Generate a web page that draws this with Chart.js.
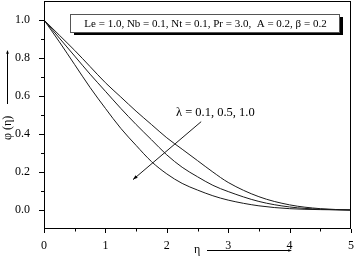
<!DOCTYPE html>
<html>
<head>
<meta charset="utf-8">
<script src="https://cdn.jsdelivr.net/npm/chart.js@4"></script>
<style>
  html, body { margin: 0; padding: 0; background: #fff; }
  #wrap { width: 354px; height: 265px; }
</style>
</head>
<body>
<div id="wrap"><canvas id="phiChart" width="354" height="265"></canvas></div>
<script>
// Data
const etaValues = [0, 0.25, 0.5, 0.75, 1.0, 1.25, 1.5, 1.75, 2.0, 2.25, 2.5, 2.75, 3.0, 3.5, 4.0, 4.5, 5.0];
const phiLambda01 = [1, 0.92, 0.84, 0.755, 0.67, 0.595, 0.52, 0.45, 0.38, 0.32, 0.26, 0.20, 0.145, 0.07, 0.027, 0.007, 0];
const phiLambda05 = [1, 0.905, 0.81, 0.715, 0.625, 0.535, 0.45, 0.37, 0.29, 0.225, 0.175, 0.13, 0.097, 0.045, 0.016, 0.004, 0];
const phiLambda10 = [1, 0.885, 0.765, 0.645, 0.535, 0.43, 0.34, 0.255, 0.19, 0.14, 0.105, 0.075, 0.052, 0.022, 0.007, 0.002, 0];

// Tick labels
const xTicks = [0, 1, 2, 3, 4, 5];
const xMinorTicks = [0.5, 1.5, 2.5, 3.5, 4.5];
const yTicks = [0.0, 0.2, 0.4, 0.6, 0.8, 1.0];
const yMinorTicks = [0.1, 0.3, 0.5, 0.7, 0.9];

// Annotation (in data units)
const paramText = 'Le = 1.0, Nb = 0.1, Nt = 0.1, Pr = 3.0,  A = 0.2, \u03b2 = 0.2';
const lambdaText = '\u03bb = 0.1, 0.5, 1.0';
const lambdaTextPos = [2.15, 0.51];
const arrowFrom = [2.56, 0.465];
const arrowTo = [1.45, 0.16];

const serif = '"Liberation Serif", "DejaVu Serif", serif';

function toPoints(ys) {
  return etaValues.map((x, i) => ({ x: x, y: ys[i] }));
}

function lineSet(label, ys) {
  return {
    label: label,
    data: toPoints(ys),
    borderColor: '#1a1a1a',
    borderWidth: 1,
    pointRadius: 0,
    fill: false,
    cubicInterpolationMode: 'monotone',
  };
}

// no extra room for tick label overflow
function noPadding(s) {
  s.paddingTop = 0;
  s.paddingBottom = 0;
  s.paddingLeft = 0;
  s.paddingRight = 0;
}

// Frame, ticks, text box, arrows
const decorPlugin = {
  id: 'decor',
  afterDraw(chart) {
    const ctx = chart.ctx;
    const a = chart.chartArea;
    const xs = chart.scales.x;
    const ys = chart.scales.y;
    ctx.save();

    // frame
    ctx.strokeStyle = '#000';
    ctx.lineWidth = 1;
    ctx.strokeRect(a.left + 0.5, a.top + 0.5, a.right - a.left - 1, a.bottom - a.top - 1);

    // ticks
    ctx.beginPath();
    xTicks.forEach(v => {
      const px = Math.round(xs.getPixelForValue(v)) + 0.5;
      ctx.moveTo(px, a.bottom); ctx.lineTo(px, a.bottom + 4);
    });
    xMinorTicks.forEach(v => {
      const px = Math.round(xs.getPixelForValue(v)) + 0.5;
      ctx.moveTo(px, a.bottom); ctx.lineTo(px, a.bottom + 2.5);
    });
    yTicks.forEach(v => {
      const py = Math.round(ys.getPixelForValue(v)) + 0.5;
      ctx.moveTo(a.left, py); ctx.lineTo(a.left - 5, py);
    });
    yMinorTicks.forEach(v => {
      const py = Math.round(ys.getPixelForValue(v)) + 0.5;
      ctx.moveTo(a.left, py); ctx.lineTo(a.left - 3, py);
    });
    ctx.stroke();

    // parameter box with shadow
    const bx = 70, by = 14, bw = 269, bh = 18;
    ctx.fillStyle = '#000';
    ctx.fillRect(bx + 4, by + 3, bw, bh);
    ctx.fillStyle = '#fff';
    ctx.fillRect(bx, by, bw, bh);
    ctx.strokeStyle = '#555';
    ctx.strokeRect(bx + 0.5, by + 0.5, bw, bh);
    ctx.fillStyle = '#000';
    ctx.font = '11px ' + serif;
    ctx.textAlign = 'center';
    ctx.textBaseline = 'middle';
    ctx.fillText(paramText, bx + bw / 2 + 1, by + bh / 2 + 1);

    // lambda label and arrow
    ctx.font = '12.5px ' + serif;
    ctx.textAlign = 'left';
    ctx.fillText(lambdaText, xs.getPixelForValue(lambdaTextPos[0]), ys.getPixelForValue(lambdaTextPos[1]));
    const x1 = xs.getPixelForValue(arrowFrom[0]), y1 = ys.getPixelForValue(arrowFrom[1]);
    const x2 = xs.getPixelForValue(arrowTo[0]), y2 = ys.getPixelForValue(arrowTo[1]);
    ctx.strokeStyle = '#1a1a1a';
    ctx.beginPath();
    ctx.moveTo(x1, y1); ctx.lineTo(x2, y2);
    ctx.stroke();
    drawHead(ctx, x1, y1, x2, y2, 5);

    // axis titles with arrows
    ctx.fillStyle = '#000';
    ctx.font = '12px ' + serif;
    ctx.textAlign = 'left';
    ctx.textBaseline = 'middle';
    ctx.fillText('\u03b7', 194, 250);
    ctx.strokeStyle = '#000';
    ctx.beginPath();
    ctx.moveTo(207, 250.5); ctx.lineTo(289, 250.5);
    ctx.stroke();
    drawHead(ctx, 207, 250.5, 292, 250.5, 4);

    ctx.save();
    ctx.translate(8, 140);
    ctx.rotate(-Math.PI / 2);
    ctx.fillText('\u03c6 (\u03b7)', 0, 0);
    ctx.restore();
    ctx.beginPath();
    ctx.moveTo(7.5, 104); ctx.lineTo(7.5, 53);
    ctx.stroke();
    drawHead(ctx, 7.5, 104, 7.5, 50, 4);

    ctx.restore();
  },
};

function drawHead(ctx, x1, y1, x2, y2, size) {
  const ang = Math.atan2(y2 - y1, x2 - x1);
  ctx.beginPath();
  ctx.moveTo(x2, y2);
  ctx.lineTo(x2 - size * Math.cos(ang - 0.35), y2 - size * Math.sin(ang - 0.35));
  ctx.lineTo(x2 - size * Math.cos(ang + 0.35), y2 - size * Math.sin(ang + 0.35));
  ctx.closePath();
  ctx.fillStyle = '#000';
  ctx.fill();
}

document.addEventListener('DOMContentLoaded', () => {
  const ctx = document.getElementById('phiChart').getContext('2d');

  new Chart(ctx, {
    type: 'line',
    data: {
      datasets: [
        lineSet('\u03bb = 0.1', phiLambda01),
        lineSet('\u03bb = 0.5', phiLambda05),
        lineSet('\u03bb = 1.0', phiLambda10),
      ],
    },
    options: {
      responsive: false,
      animation: false,
      layout: { padding: { top: 1, right: 3, left: 0, bottom: 0 } },
      plugins: {
        legend: { display: false },
        tooltip: { enabled: false },
      },
      scales: {
        x: {
          type: 'linear',
          min: 0,
          max: 5,
          afterBuildTicks: s => { s.ticks = xTicks.map(v => ({ value: v })); },
          afterFit: s => { s.height = 36; noPadding(s); },
          grid: { display: false },
          border: { display: false },
          ticks: {
            color: '#000',
            padding: 2,
            maxRotation: 0,
            font: { family: serif, size: 12 },
            callback: v => String(v),
          },
        },
        y: {
          type: 'linear',
          min: -0.1,
          max: 1.1,
          afterBuildTicks: s => { s.ticks = yTicks.map(v => ({ value: v })); },
          afterFit: s => { s.width = 44; noPadding(s); },
          grid: { display: false },
          border: { display: false },
          ticks: {
            color: '#000',
            padding: 6,
            font: { family: serif, size: 12 },
            callback: v => v.toFixed(1),
          },
        },
      },
    },
    plugins: [decorPlugin],
  });
});
</script>
</body>
</html>
